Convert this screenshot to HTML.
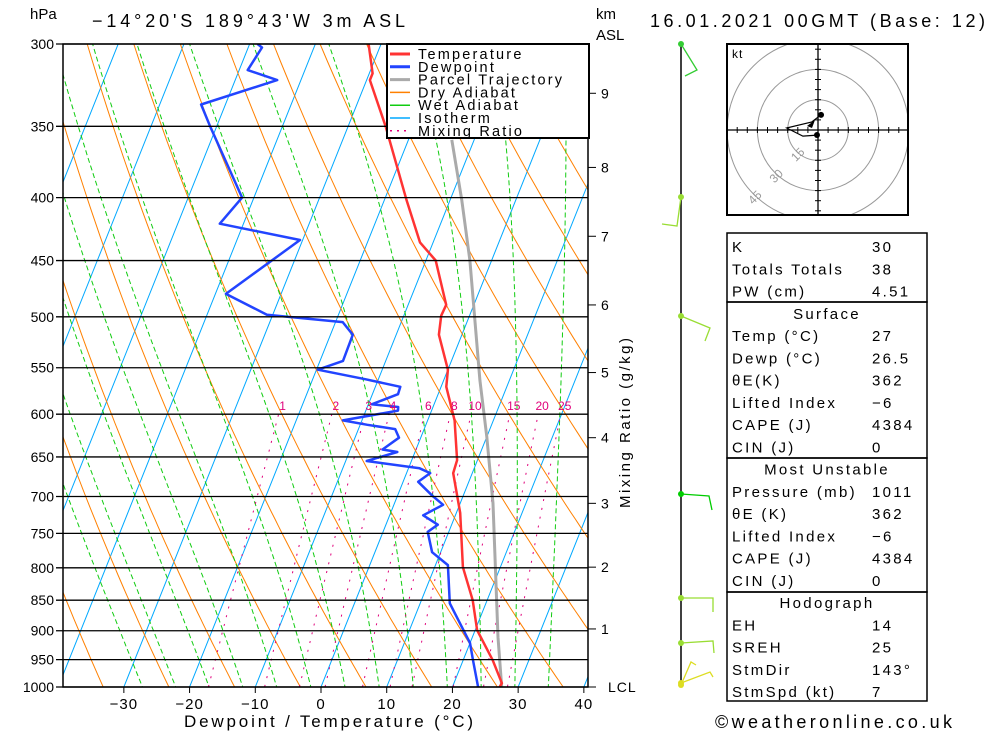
<!DOCTYPE html>
<html><head><meta charset="utf-8">
<style>
html,body{margin:0;padding:0;background:#fff;}
svg{display:block;font-family:"Liberation Sans",sans-serif;}
#legend text{letter-spacing:2.2px;}
#table text{letter-spacing:2.3px;}
</style></head>
<body>
<svg id="chart" width="1000" height="733" viewBox="0 0 1000 733" xmlns="http://www.w3.org/2000/svg">
<defs><clipPath id="plotclip"><rect x="63" y="44" width="525" height="643"/></clipPath>
<clipPath id="hodoclip"><rect x="727" y="44" width="181" height="171"/></clipPath></defs>
<g id="bg" clip-path="url(#plotclip)"></g>
<g id="series" clip-path="url(#plotclip)"></g>
<g id="axes"></g>
<text x="30" y="19" font-size="15">hPa</text>
<text x="92" y="27" font-size="18" textLength="313" lengthAdjust="spacing">−14°20'S  189°43'W  3m  ASL</text>
<text x="650" y="27" font-size="18" textLength="335" lengthAdjust="spacing">16.01.2021  00GMT  (Base: 12)</text>
<text x="596" y="19" font-size="15">km</text>
<text x="596" y="40" font-size="15">ASL</text>
<text x="184" y="727" font-size="17" textLength="289" lengthAdjust="spacing">Dewpoint  /  Temperature  (°C)</text>
<text transform="translate(630,508) rotate(-90)" font-size="15" textLength="170" lengthAdjust="spacing">Mixing  Ratio  (g/kg)</text>
<text x="715" y="728" font-size="18" textLength="237" lengthAdjust="spacing">©weatheronline.co.uk</text>
<g id="legend">
<rect x="387" y="44" width="202" height="94" fill="#fff" stroke="#000" stroke-width="2"/>
</g>
<g id="barbs"></g>
<g id="hodo"></g>
<g id="table"></g>
</svg>
<script>
// ---- data ----
const tempP = [1011,993,951,899,850,799,722,670,654,607,570,552,517,499,489,450,435,402,350,321,317,300];
const tempT = [27.0,27.3,24.5,20.3,17.8,14.3,10.6,7.1,6.9,4.1,0.8,0.0,-3.5,-4.3,-4.2,-8.5,-12.0,-16.6,-24.3,-29.5,-29.5,-31.9];
const dewP = [1011,1000,951,921,855,796,777,748,738,725,711,699,681,670,664,655,644,641,627,617,612,607,596,592,589,578,570,562,552,543,517,505,498,479,433,420,400,350,336,321,315,302,300];
const dewT = [26.5,23.9,21.5,20.0,14.5,11.9,8.7,6.8,7.9,5.1,7.5,5.3,2.3,3.6,1.7,-6.8,-2.7,-5.1,-3.3,-4.4,-8.9,-12.9,-5.1,-5.3,-9.5,-6.1,-6.2,-12.0,-19.8,-16.5,-16.6,-18.9,-30.9,-38.4,-30.4,-43.6,-41.8,-51.0,-53.7,-43.6,-48.7,-47.9,-48.8];
const parcelP = [1000,911,709,626,563,450,402,359];
const parcelT = [27.5,23.9,15.0,10.0,5.5,-3.3,-8.2,-13.4];
const isobars = [300,350,400,450,500,550,600,650,700,750,800,850,900,950,1000];
const tempTicks = [-30,-20,-10,0,10,20,30,40];
const kmTicks = ['9','8','7','6','5','4','3','2','1','LCL'];
const kmP = [329,378,430,489,555,627,709,799,897,1000];
const mixRatios = [1,2,3,4,6,8,10,15,20,25];
const hodoU = [-0.5,-7.5,-15.5,-3,1.5];
const hodoV = [-2.5,-3,1,4,7.5];
const tableRows = [["K","30"],["Totals Totals","38"],["PW (cm)","4.51"],["Surface",""],["Temp (°C)","27"],["Dewp (°C)","26.5"],["θE(K)","362"],["Lifted Index","−6"],["CAPE (J)","4384"],["CIN (J)","0"],["Most Unstable",""],["Pressure (mb)","1011"],["θE (K)","362"],["Lifted Index","−6"],["CAPE (J)","4384"],["CIN (J)","0"],["Hodograph",""],["EH","14"],["SREH","25"],["StmDir","143°"],["StmSpd (kt)","7"]];

// ---- scales ----
const NS="http://www.w3.org/2000/svg";
const LR=Math.log(1000/300);
function yP(p){return 44+Math.log(p/300)/LR*643;}
function xT(t,p){return 321+t*6.5714+(687-yP(p))*0.4;}
function mk(tag,attrs,parent){const e=document.createElementNS(NS,tag);for(const k in attrs)e.setAttribute(k,attrs[k]);parent.appendChild(e);return e;}
const bg=document.getElementById('bg'),ser=document.getElementById('series'),ax=document.getElementById('axes');

// isotherms
for(let t=-120;t<=40;t+=10){
  const l=mk('line',{x1:xT(t,1050),y1:yP(1050),x2:xT(t,280),y2:yP(280),stroke:'#00a8ff','stroke-width':1},bg);
  
  
}
// dry adiabats
for(let th=240;th<=470;th+=10){
  let pts=[];for(let p=1050;p>=280;p-=10){const T=th*Math.pow(p/1000,0.286)-273.15;pts.push(xT(T,p).toFixed(1)+','+yP(p).toFixed(1));}
  const l=mk('polyline',{points:pts.join(' '),fill:'none',stroke:'#ff8000','stroke-width':1},bg);
  
  
}
// wet adiabats
function es(T){return 6.112*Math.exp(17.67*T/(T+243.5));}
function moistLapse(T,p){const Tk=T+273.15,Rd=287,Cp=1005,Lv=2.5e6,eps=0.622;const rs=eps*es(T)/(p-es(T));return (Rd*Tk+Lv*rs)/(p*(Cp+Lv*Lv*rs*eps/(Rd*Tk*Tk)));}
for(let tw=-24;tw<=40;tw+=5){
  let T=tw,pts=[];
  for(let p=1050;p>=280;p-=5){pts.push(xT(T,p).toFixed(1)+','+yP(p).toFixed(1));T-=moistLapse(T,p)*5;}
  const l=mk('polyline',{points:pts.join(' '),fill:'none',stroke:'#11cc11','stroke-width':1,'stroke-dasharray':'5,3'},bg);
  
  
}
// mixing ratio
function tdFromW(w,p){const e=w*p/(622+w);const a=Math.log(e/6.112);return 243.5*a/(17.67-a);}
mixRatios.forEach(w=>{
  let pts=[];for(let p=1050;p>=600;p-=10)pts.push(xT(tdFromW(w,p),p).toFixed(1)+','+yP(p).toFixed(1));
  const l=mk('polyline',{points:pts.join(' '),fill:'none',stroke:'#e0007a','stroke-width':1,'stroke-dasharray':'2,7'},bg);
  
  
  const tx=mk('text',{x:xT(tdFromW(w,600),600)+4,y:yP(600)-4,'font-size':12,fill:'#e0007a','text-anchor':'middle'},ax);
  tx.textContent=w;
  
  
});
// isobars
isobars.forEach(p=>{
  const l=mk('line',{x1:56,y1:yP(p),x2:588,y2:yP(p),stroke:'#000','stroke-width':1.3},ax);
  
  
  const t=mk('text',{x:54,y:yP(p)+5,'font-size':14,'text-anchor':'end'},ax);
  t.textContent=p;
  
  
});
const fr=mk('rect',{x:63,y:44,width:525,height:643,fill:'none',stroke:'#000','stroke-width':1.5},ax);


tempTicks.forEach(t=>{
  const x=xT(t,1000);
  const l=mk('line',{x1:x,y1:687,x2:x,y2:693,stroke:'#000'},ax);
  
  
  const tx=mk('text',{x:x,y:709,'font-size':15,'text-anchor':'middle','letter-spacing':'1px'},ax);
  tx.textContent=t<0?'−'+(-t):t;
  
  
});
kmTicks.forEach((k,i)=>{
  const y=yP(kmP[i]);
  const l=mk('line',{x1:588,y1:y,x2:596,y2:y,stroke:'#000'},ax);
  
  
  const tx=mk('text',{x:k==='LCL'?608:601,y:y+5,'font-size':14,'letter-spacing':'1px'},ax);
  tx.textContent=k;
  
  
});
// series
function line(P,T,color,w){
  const pts=P.map((p,i)=>xT(T[i],p).toFixed(1)+','+yP(p).toFixed(1)).join(' ');
  return mk('polyline',{points:pts,fill:'none',stroke:color,'stroke-width':w,'stroke-linejoin':'round'},ser);
}
const pl=line(parcelP,parcelT,'#aaaaaa',3);


const tl=line(tempP,tempT,'#ff3333',2.5);


const dl=line(dewP,dewT,'#2244ff',2.5);



// legend
const leg=document.getElementById('legend');
[['Temperature','#ff3333',3,''],['Dewpoint','#2244ff',3,''],['Parcel Trajectory','#aaaaaa',3,''],['Dry Adiabat','#ff8000',1.5,''],['Wet Adiabat','#11cc11',1.5,''],['Isotherm','#00a8ff',1.5,''],['Mixing Ratio','#e0007a',1.5,'2,5']].forEach((e,i)=>{
  const y=54+i*12.8;
  const l=mk('line',{x1:390,y1:y,x2:410,y2:y,stroke:e[1],'stroke-width':e[2],'stroke-dasharray':e[3]},leg);
  
  
  const t=mk('text',{x:418,y:y+5,'font-size':14.5},leg);
  t.textContent=e[0];
  
  
});

// wind barbs
const bb=document.getElementById('barbs');
const st=mk('line',{x1:681,y1:44,x2:681,y2:687,stroke:'#000','stroke-width':1.5},bb);


[['681,44 697,70 685,76','#33cc33'],['681,197 677,226 662,224','#99dd33'],['681,316 710,328 705,341','#99dd33'],['681,494 709,496 712,510','#00cc00'],['681,598 713,598 713,612','#99dd33'],['681,643 713,641 714,653','#99dd33'],['681,685 691,662 696,665','#dddd22'],['681,683 710,672 713,677','#dddd22']].forEach(b=>{
  const l=mk('polyline',{points:b[0],fill:'none',stroke:b[1],'stroke-width':1.3},bb);
  
  
  const [x,y]=b[0].split(' ')[0].split(',');
  const c=mk('circle',{cx:x,cy:y,r:3,fill:b[1]},bb);
  
  
});

// hodograph
const hd=document.getElementById('hodo');
const hb=mk('rect',{x:727,y:44,width:181,height:171,fill:'#fff',stroke:'none'},hd);


const hcx=818,hcy=130,kp=2.02;
const hg=mk('g',{'clip-path':'url(#hodoclip)'},hd);


[15,30,45].forEach(r=>{
  const c=mk('circle',{cx:hcx,cy:hcy,r:r*kp,fill:'none',stroke:'#999','stroke-width':1},hg);
  
  
  const a=Math.PI*0.75;const x=hcx+Math.cos(a)*r*kp+4,y=hcy+Math.sin(a)*r*kp+6;
  const t=mk('text',{x:x,y:y,'font-size':12,fill:'#999','text-anchor':'middle',transform:`rotate(-45 ${x} ${y})`},hg);
  t.textContent=r;
  
  
});
const hx=mk('line',{x1:727,y1:hcy,x2:908,y2:hcy,stroke:'#000','stroke-width':1.3},hd);


const hy=mk('line',{x1:hcx,y1:44,x2:hcx,y2:215,stroke:'#000','stroke-width':1.3},hd);


for(let k=-40;k<=40;k+=5){if(k===0)continue;
  const t1=mk('line',{x1:hcx+k*kp,y1:hcy-3,x2:hcx+k*kp,y2:hcy+3,stroke:'#000'},hd);
  
  
  const t2=mk('line',{x1:hcx-3,y1:hcy+k*kp,x2:hcx+3,y2:hcy+k*kp,stroke:'#000'},hd);
  
  
}
const hf=mk('rect',{x:727,y:44,width:181,height:171,fill:'none',stroke:'#000','stroke-width':2},hd);


const hkt=mk('text',{x:732,y:58,'font-size':12,'letter-spacing':'1px'},hd);
hkt.textContent='kt';


const hp=hodoU.map((u,i)=>(hcx+u*kp).toFixed(1)+','+(hcy-hodoV[i]*kp).toFixed(1)).join(' ');
const hl=mk('polyline',{points:hp,fill:'none',stroke:'#000','stroke-width':1.2},hd);


[0,hodoU.length-1].forEach(i=>{
  const c=mk('circle',{cx:hcx+hodoU[i]*kp,cy:hcy-hodoV[i]*kp,r:3,fill:'#000'},hd);
  
  
});
const ar=mk('polygon',{points:'807,126 815,120 812,128',fill:'#000'},hd);



// table
const tb=document.getElementById('table');
[[233,302],[302,458],[458,592],[592,701]].forEach(b=>{
  const r=mk('rect',{x:727,y:b[0],width:200,height:b[1]-b[0],fill:'none',stroke:'#000','stroke-width':1.5},tb);
  
  
});
tableRows.forEach((r,i)=>{
  const y=252+i*22.25;
  if(r[1]===''){
    const t=mk('text',{x:827,y:y,'font-size':15,'text-anchor':'middle'},tb);
    t.textContent=r[0];
    
    
  }else{
    const t=mk('text',{x:732,y:y,'font-size':15},tb);
    t.textContent=r[0];
    
    
    const v=mk('text',{x:872,y:y,'font-size':15},tb);
    v.textContent=r[1];
    
    
  }
});
</script>
</body></html>
